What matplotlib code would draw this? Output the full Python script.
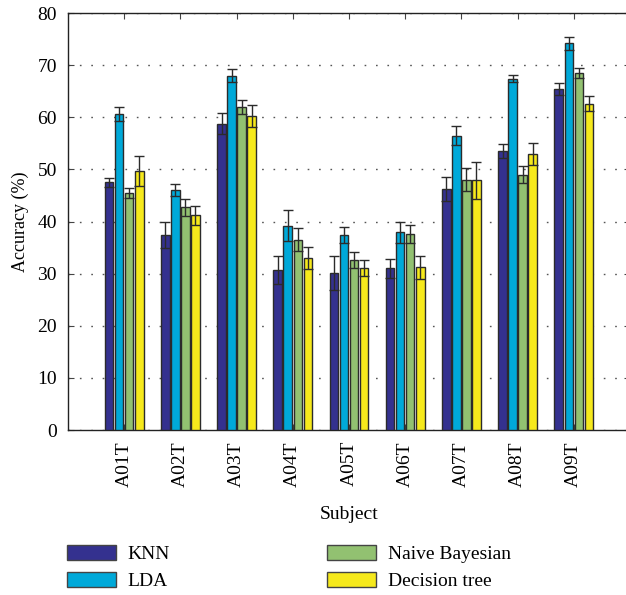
import numpy as np
import matplotlib.pyplot as plt
from matplotlib.patches import Patch

plt.rcParams['font.family'] = ['Liberation Serif', 'DejaVu Serif']

subjects = ['A01T', 'A02T', 'A03T', 'A04T', 'A05T', 'A06T', 'A07T', 'A08T', 'A09T']
methods = ['KNN', 'LDA', 'Naive Bayesian', 'Decision tree']
colors = ['#34318f', '#00a9d9', '#92c171', '#f6e91c']

knn = [47.5, 37.4, 58.8, 30.7, 30.1, 31.0, 46.3, 53.5, 65.4]
lda = [60.6, 46.0, 68.0, 39.2, 37.4, 37.9, 56.5, 67.4, 74.2]
nb = [45.5, 42.7, 62.0, 36.5, 32.6, 37.6, 48.0, 49.0, 68.5]
dt = [49.7, 41.2, 60.3, 33.0, 31.1, 31.2, 47.9, 53.0, 62.6]

knn_err = [0.9, 2.5, 2.1, 2.7, 3.2, 1.8, 2.3, 1.3, 1.1]
lda_err = [1.3, 1.2, 1.2, 3.0, 1.6, 2.0, 1.8, 0.7, 1.2]
nb_err = [1.0, 1.7, 1.3, 2.2, 1.6, 1.7, 2.2, 1.6, 1.0]
dt_err = [2.8, 1.8, 2.1, 2.2, 1.6, 2.2, 3.5, 2.1, 1.4]

values = [knn, lda, nb, dt]
errors = [knn_err, lda_err, nb_err, dt_err]

fig = plt.figure(figsize=(6.26, 5.95), dpi=100)
ax = fig.add_axes([0.1086, 0.2773, 0.8978, 0.7008])

x = np.arange(1, len(subjects) + 1)
step = 0.179
width = 0.152
for i in range(4):
    pos = x + (i - 1.5) * step
    ax.bar(pos, values[i], width, color=colors[i], edgecolor='#2b2b2b',
           linewidth=1.0, zorder=3)
    ax.errorbar(pos, values[i], yerr=errors[i], fmt='none', ecolor='#2b2b2b',
                elinewidth=1.0, capsize=3.5, capthick=1.0, zorder=4)

ax.set_xlim(0, 10)
ax.set_ylim(0, 80)
ax.set_yticks(range(0, 81, 10))
ax.set_xticks(x)
ax.set_xticklabels(subjects, rotation=90, fontsize=14)
ax.tick_params(axis='y', labelsize=14)
ax.tick_params(direction='in', top=True, right=True, length=4, color='#444444', pad=8)
ax.yaxis.grid(True, linestyle=(0, (1.2, 7)), color='#555555', linewidth=1.0, zorder=0)
for s in ax.spines.values():
    s.set_color('#222222')
    s.set_linewidth(1.0)

ax.set_xlabel('Subject', fontsize=14, labelpad=14)
ax.set_ylabel('Accuracy (%)', fontsize=13, labelpad=6)

handles = [Patch(facecolor=c, edgecolor='#444444', linewidth=1.0) for c in colors]
fig.legend(handles, methods, ncol=2, loc='upper left', bbox_to_anchor=(0.079, 0.113),
           frameon=False, fontsize=14, handlelength=2.5, handleheight=0.77,
           handletextpad=0.62, columnspacing=8.07, labelspacing=0.45)

fig.savefig('out.png', dpi=100)
